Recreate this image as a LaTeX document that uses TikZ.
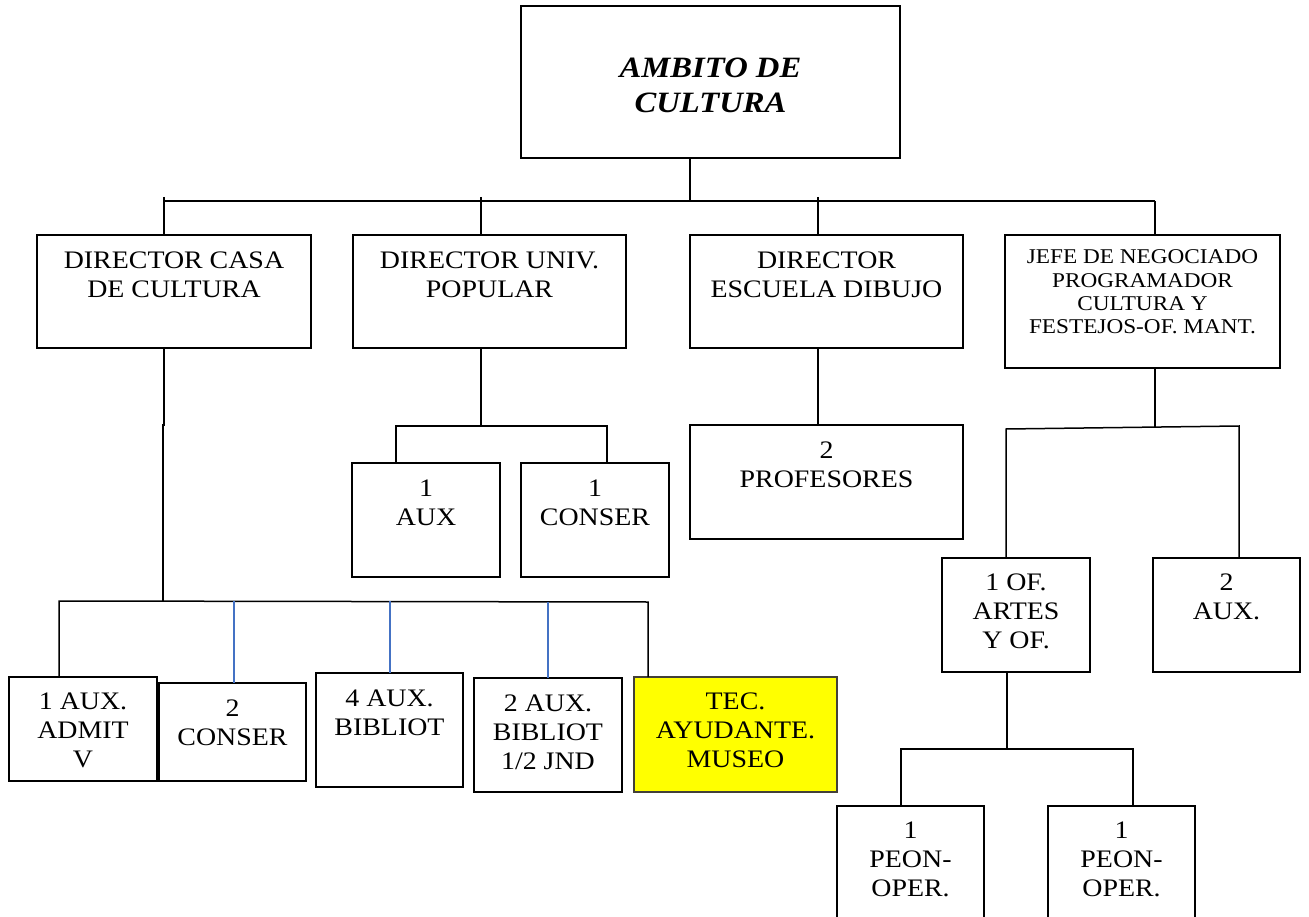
\documentclass[tikz,border=0pt]{standalone}
\usepackage{fontspec}
\newfontfamily\tnr{Liberation Serif}[FakeStretch=1.107]
\definecolor{linkblue}{RGB}{68,114,196}
\definecolor{boxyellow}{RGB}{255,255,0}
\tikzset{
  box/.style={draw=black, line width=1.5pt, inner sep=0pt, outer sep=0pt},
  hibox/.style={box, fill=boxyellow, draw=black!85!yellow},
  txt/.style={inner sep=0pt, outer sep=0pt, align=center, font=\tnr\fontsize{25.2}{28.7}\selectfont},
  smalltxt/.style={txt, font=\tnr\fontsize{21}{23.2}\selectfont},
  titletxt/.style={txt, font=\tnr\bfseries\itshape\fontsize{29.5}{34.5}\selectfont},
  link/.style={draw=black, line width=1.5pt},
  bluelink/.style={draw=linkblue, line width=1.2pt},
}
% name, x1, y1, x2, y2, style, text offset, text style, text
\newcommand{\orgbox}[9]{%
  \pgfmathsetmacro\obw{#4-#2}%
  \pgfmathsetmacro\obh{#5-#3}%
  \node[#6, minimum width=\obw pt, minimum height=\obh pt, anchor=north west] (#1) at (#2,#3) {};
  \node[#8, anchor=north] (#1t) at ([yshift=-#7pt]#1.north) {#9};
}
\begin{document}
\begin{tikzpicture}[x=1pt,y=-1pt]
\clip (0,0) rectangle (1309,917);
\fill[white] (0,0) rectangle (1309,917);

% top
\orgbox{top}{521}{6}{900}{158}{box}{52}{titletxt}{AMBITO DE\\CULTURA}

% second row
\orgbox{d1}{37}{235}{311}{348}{box}{17}{txt}{DIRECTOR CASA\\DE CULTURA}
\orgbox{d2}{353}{235}{626}{348}{box}{17}{txt}{DIRECTOR UNIV.\\POPULAR}
\orgbox{d3}{690}{235}{963}{348}{box}{17}{txt}{DIRECTOR\\ESCUELA DIBUJO}
\orgbox{d4}{1005}{235}{1280}{368}{box}{15}{smalltxt}{JEFE DE NEGOCIADO\\PROGRAMADOR\\CULTURA Y\\FESTEJOS-OF. MANT.}

% univ popular children
\orgbox{u1}{352}{463}{500}{577}{box}{17}{txt}{1\\AUX}
\orgbox{u2}{521}{463}{669}{577}{box}{17}{txt}{1\\CONSER}

% escuela dibujo child
\orgbox{e1}{690}{425}{963}{539}{box}{17}{txt}{2\\PROFESORES}

% jefe children
\orgbox{j1}{942}{558}{1090}{672}{box}{16}{txt}{1 OF.\\ARTES\\Y OF.}
\orgbox{j2}{1153}{558}{1300}{672}{box}{16}{txt}{2\\AUX.}

% peon boxes
\orgbox{p1}{837}{806}{984}{940}{box}{16}{txt}{1\\PEON-\\OPER.}
\orgbox{p2}{1048}{806}{1195}{940}{box}{16}{txt}{1\\PEON-\\OPER.}

% casa de cultura children
\orgbox{c1}{9}{677}{157}{781}{box}{16}{txt}{1 AUX.\\ADMIT\\V}
\orgbox{c2}{159}{683}{306}{781}{box}{17}{txt}{2\\CONSER}
\orgbox{c3}{316}{673}{463}{787}{box}{17}{txt}{4 AUX.\\BIBLIOT}
\orgbox{c4}{474}{678}{622}{792}{box}{17}{txt}{2 AUX.\\BIBLIOT\\1/2 JND}
\orgbox{c5}{634}{677}{837}{792}{hibox}{16}{txt}{TEC.\\AYUDANTE.\\MUSEO}

% junction coordinates
\coordinate (jtop) at (690,201);
\coordinate (bl) at (164,201);
\coordinate (br) at (1155,201);
\coordinate (t1) at (164,197);
\coordinate (t2) at (481,197);
\coordinate (t3) at (818,197);

\coordinate (ju) at (481,426);
\coordinate (jul) at (396,426);
\coordinate (jur) at (607,426);

\coordinate (jj) at (1155,427);
\coordinate (jjl) at (1006,429);
\coordinate (jjr) at (1239,426);

\coordinate (jo) at (1007,749);
\coordinate (jol) at (901,749);
\coordinate (jor) at (1133,749);

\coordinate (jc) at (163,601);
\coordinate (jcl) at (59,601);
\coordinate (jcr) at (648,602);

% top connectors
\draw[link] (jtop |- top.south) -- (jtop);
\draw[link] (bl) -- (br);
\draw[link] (t1) -- (t1 |- d1.north);
\draw[link] (t2) -- (t2 |- d2.north);
\draw[link] (t3) -- (t3 |- d3.north);
\draw[link] (br) -- (br |- d4.north);

% univ popular
\draw[link] (ju |- d2.south) -- (ju);
\draw[link] (jul |- u1.north) -- (jul) -- (jur) -- (jur |- u2.north);

% escuela dibujo
\draw[link] (818,348) coordinate (e0) -- (e0 |- e1.north);

% jefe
\draw[link] (jj |- d4.south) -- (jj);
\draw[link] (jjl |- j1.north) -- (jjl) -- (jjr) -- (jjr |- j2.north);

% of artes
\draw[link] (jo |- j1.south) -- (jo);
\draw[link] (jol |- p1.north) -- (jol) -- (jor) -- (jor |- p2.north);

% casa de cultura
\draw[link] (164,348) coordinate (c0) -- (164,425) -- (163,425) -- (jc);
\draw[link] (jcl |- c1.north) -- (jcl) -- (jcr) -- (jcr |- c5.north);
\draw[bluelink] (234,601) coordinate (k2) -- (k2 |- c2.north);
\draw[bluelink] (390,601) coordinate (k3) -- (k3 |- c3.north);
\draw[bluelink] (548,602) coordinate (k4) -- (k4 |- c4.north);
\end{tikzpicture}
\end{document}
